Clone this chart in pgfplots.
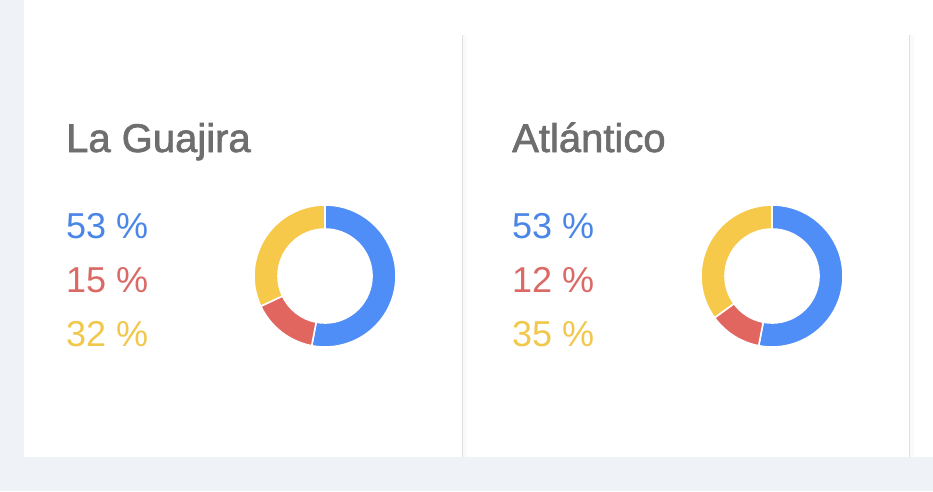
\documentclass[border=0pt]{standalone}
\usepackage{pgfplots}
\pgfplotsset{compat=1.18}
\usepackage{pgfplotstable}
\usepackage{fontspec}
\setmainfont{Liberation Sans}
\newfontfamily\titlefont{Liberation Sans}[FakeBold=1.6]

\definecolor{bgcol}{HTML}{EFF3F8}
\definecolor{rule}{HTML}{E0E0E0}
\definecolor{titlegray}{HTML}{6E6E6E}
\definecolor{gblue}{HTML}{4F8EF7}
\definecolor{gred}{HTML}{E0665F}
\definecolor{gyellow}{HTML}{F7C94B}
\definecolor{tblue}{HTML}{4A86E8}
\definecolor{tred}{HTML}{DB6A66}
\definecolor{tyellow}{HTML}{F2C84C}

% shares in percent, clockwise from the top
\pgfplotstableread{
share
53
15
32
}\guajira
\pgfplotstableread{
share
53
12
35
}\atlantico

% one ring segment, from angle #2 to angle #3
\newcommand\ring[3]{%
  \fill[#1,draw=white,line width=1.6pt]
    ([shift={(#2:71pt)}]axis cs:0,0) arc[start angle=#2,end angle=#3,radius=71pt]
    -- ([shift={(#3:47pt)}]axis cs:0,0) arc[start angle=#3,end angle=#2,radius=47pt]
    -- cycle;}

\newcommand\donut[1]{%
  \pgfplotstablegetelem{0}{share}\of#1\let\sa\pgfplotsretval
  \pgfplotstablegetelem{1}{share}\of#1\let\sb\pgfplotsretval
  \pgfplotstablegetelem{2}{share}\of#1\let\sc\pgfplotsretval
  \pgfmathsetmacro\tot{\sa+\sb+\sc}
  \pgfmathsetmacro\aB{90-360*(\sa/\tot)}
  \pgfmathsetmacro\aC{\aB-360*(\sb/\tot)}
  \ring{gblue}{90}{\aB}
  \ring{gred}{\aB}{\aC}
  \ring{gyellow}{\aC}{-270}}

\pgfplotsset{donutaxis/.style={hide axis,x=1pt,y=1pt,
  xmin=-75,xmax=75,ymin=-75,ymax=75,anchor=center,clip=false}}

\begin{document}
\begin{tikzpicture}[x=1pt,y=1pt]
  % page and cards
  \fill[bgcol] (0,0) rectangle (933,491);
  \fill[white] (24,34) rectangle (933,491);
  \foreach \xx in {462,909} {
    \fill[black!2] (\xx,34) rectangle (\xx+5,456);
    \draw[rule,line width=0.9pt] (\xx,34) -- (\xx,456);
  }

  % La Guajira
  \node[anchor=base west,inner sep=0,text=titlegray,font=\titlefont\fontsize{40}{48}\selectfont]
    at (66,339) {La Guajira};
  \begin{scope}[font=\fontsize{36}{44}\selectfont]
    \node[anchor=base west,inner sep=0,text=tblue] at (66,253) {53 \%};
    \node[anchor=base west,inner sep=0,text=tred] at (66,199) {15 \%};
    \node[anchor=base west,inner sep=0,text=tyellow] at (66,145) {32 \%};
  \end{scope}
  \begin{axis}[donutaxis,at={(325pt,215pt)}]
    \donut{\guajira}
  \end{axis}

  % Atlantico
  \node[anchor=base west,inner sep=0,text=titlegray,font=\titlefont\fontsize{40}{48}\selectfont]
    at (512,339) {Atlántico};
  \begin{scope}[font=\fontsize{36}{44}\selectfont]
    \node[anchor=base west,inner sep=0,text=tblue] at (512,253) {53 \%};
    \node[anchor=base west,inner sep=0,text=tred] at (512,199) {12 \%};
    \node[anchor=base west,inner sep=0,text=tyellow] at (512,145) {35 \%};
  \end{scope}
  \begin{axis}[donutaxis,at={(772pt,215pt)}]
    \donut{\atlantico}
  \end{axis}
\end{tikzpicture}
\end{document}
